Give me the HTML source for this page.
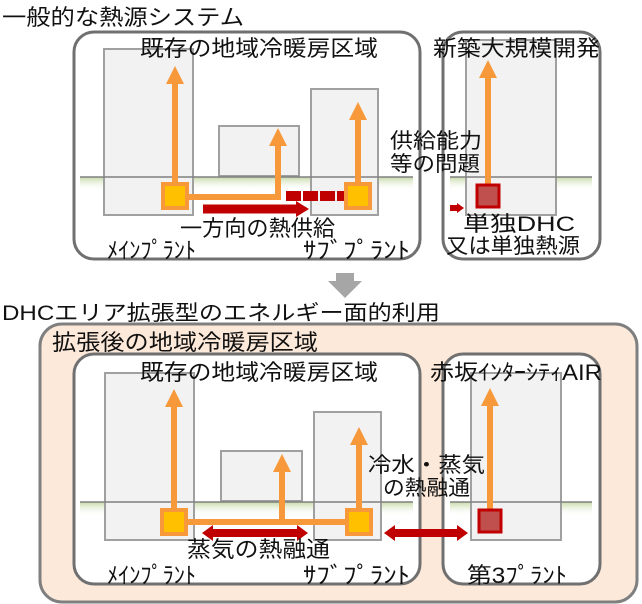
<!DOCTYPE html>
<html><head><meta charset="utf-8"><style>
html,body{margin:0;padding:0;background:#fff;width:642px;height:604px;overflow:hidden}
svg{display:block}
text{font-family:"Liberation Sans","Noto Sans CJK JP",sans-serif;fill:#111}
</style></head><body>
<svg width="642" height="604" viewBox="0 0 642 604" xmlns="http://www.w3.org/2000/svg">
<defs>
<linearGradient id="g" x1="0" y1="0" x2="0" y2="1"><stop offset="0" stop-color="#c6d9a8"/><stop offset="1" stop-color="#fff" stop-opacity="0"/></linearGradient>
</defs>

<!-- TOP -->
<text x="2" y="25" font-size="22" textLength="242" lengthAdjust="spacingAndGlyphs">一般的な熱源システム</text>
<rect x="74" y="32" width="346" height="227" rx="20" fill="#fff" stroke="#707070" stroke-width="3"/>
<rect x="443" y="32" width="157" height="227" rx="20" fill="#fff" stroke="#707070" stroke-width="3"/>
<rect x="80" y="177" width="333" height="14" fill="url(#g)"/>
<rect x="450" y="177" width="142" height="14" fill="url(#g)"/>
<rect x="104" y="49" width="89" height="166" fill="#f2f2f2" stroke="#a0a0a0" stroke-width="2"/>
<rect x="219" y="126" width="80" height="50" fill="#f2f2f2" stroke="#a0a0a0" stroke-width="2"/>
<rect x="311" y="89" width="67" height="126" fill="#f2f2f2" stroke="#a0a0a0" stroke-width="2"/>
<rect x="466" y="40" width="90" height="175" fill="#f2f2f2" stroke="#a0a0a0" stroke-width="2"/>
<line x1="80" y1="177" x2="413" y2="177" stroke="#808080" stroke-width="1.5"/>
<line x1="450" y1="177" x2="592" y2="177" stroke="#808080" stroke-width="1.5"/>
<text x="140" y="56" font-size="22" textLength="238" lengthAdjust="spacingAndGlyphs">既存の地域冷暖房区域</text>
<text x="433" y="56" font-size="22" textLength="167" lengthAdjust="spacingAndGlyphs">新築大規模開発</text>
<line x1="175" y1="185" x2="175" y2="84" stroke="#f7993a" stroke-width="6"/><path d="M166,84 L175,66 L184,84z" fill="#f7993a"/>
<line x1="278" y1="198" x2="278" y2="146" stroke="#f7993a" stroke-width="6"/><path d="M269,146 L278,128 L287,146z" fill="#f7993a"/>
<line x1="358" y1="185" x2="358" y2="120" stroke="#f7993a" stroke-width="6"/><path d="M349,120 L358,102 L367,120z" fill="#f7993a"/>
<line x1="188" y1="197" x2="281" y2="197" stroke="#f7993a" stroke-width="6"/>
<line x1="488" y1="186" x2="488" y2="78" stroke="#f7993a" stroke-width="6"/><path d="M479,78 L488,60 L497,78z" fill="#f7993a"/>
<rect x="163" y="184" width="24" height="24" fill="#ffc000" stroke="#f7993a" stroke-width="4"/>
<line x1="286" y1="196" x2="353" y2="196" stroke="#c00000" stroke-width="10" stroke-dasharray="15,2"/>
<rect x="346" y="184" width="24" height="24" fill="#ffc000" stroke="#f7993a" stroke-width="4"/>
<rect x="477" y="185" width="22" height="22" fill="#c0504d" stroke="#c00000" stroke-width="3"/>
<line x1="203" y1="209" x2="297" y2="209" stroke="#c00000" stroke-width="9"/><path d="M296,201 L309,209 L296,217z" fill="#c00000"/>
<line x1="450" y1="208" x2="458" y2="208" stroke="#c00000" stroke-width="6"/><path d="M457,203 L464,208 L457,213z" fill="#c00000"/>
<text x="180" y="236" font-size="22" textLength="155" lengthAdjust="spacingAndGlyphs">一方向の熱供給</text>
<text x="107" y="258" font-size="23" textLength="89" lengthAdjust="spacingAndGlyphs">ﾒｲﾝﾌﾟﾗﾝﾄ</text>
<text x="303" y="258" font-size="23" textLength="107" lengthAdjust="spacingAndGlyphs">ｻﾌﾞﾌﾟﾗﾝﾄ</text>
<text x="390" y="148" font-size="21" textLength="92" lengthAdjust="spacingAndGlyphs">供給能力</text>
<text x="390" y="171" font-size="21" textLength="90" lengthAdjust="spacingAndGlyphs">等の問題</text>
<text x="463" y="231" font-size="21" textLength="112" lengthAdjust="spacingAndGlyphs">単独DHC</text>
<text x="446" y="253" font-size="21" textLength="134" lengthAdjust="spacingAndGlyphs">又は単独熱源</text>

<!-- gray arrow -->
<rect x="336" y="273" width="18" height="9" fill="#a6a6a6"/>
<path d="M328,281 L362,281 L345,298z" fill="#a6a6a6"/>

<!-- BOTTOM -->
<text x="2" y="320" font-size="21" textLength="438" lengthAdjust="spacingAndGlyphs">DHCエリア拡張型のエネルギー面的利用</text>
<rect x="40" y="324" width="597" height="278" rx="22" fill="#fde9d9" stroke="#7f7f7f" stroke-width="3"/>
<text x="52" y="350" font-size="22" textLength="266" lengthAdjust="spacingAndGlyphs">拡張後の地域冷暖房区域</text>
<rect x="74" y="354" width="346" height="230" rx="20" fill="#fff" stroke="#707070" stroke-width="3"/>
<rect x="443" y="354" width="157" height="230" rx="20" fill="#fff" stroke="#707070" stroke-width="3"/>
<rect x="80" y="502" width="333" height="14" fill="url(#g)"/>
<rect x="450" y="502" width="142" height="14" fill="url(#g)"/>
<rect x="105" y="373" width="89" height="167" fill="#f2f2f2" stroke="#a0a0a0" stroke-width="2"/>
<rect x="221" y="451" width="81" height="50" fill="#f2f2f2" stroke="#a0a0a0" stroke-width="2"/>
<rect x="314" y="412" width="67" height="128" fill="#f2f2f2" stroke="#a0a0a0" stroke-width="2"/>
<rect x="471" y="373" width="90" height="167" fill="#f2f2f2" stroke="#a0a0a0" stroke-width="2"/>
<line x1="80" y1="502" x2="413" y2="502" stroke="#808080" stroke-width="1.5"/>
<line x1="450" y1="502" x2="592" y2="502" stroke="#808080" stroke-width="1.5"/>
<text x="140" y="380" font-size="22" textLength="238" lengthAdjust="spacingAndGlyphs">既存の地域冷暖房区域</text>
<text x="430" y="380" font-size="22" textLength="172" lengthAdjust="spacingAndGlyphs">赤坂ｲﾝﾀｰｼﾃｨAIR</text>
<line x1="174" y1="512" x2="174" y2="407" stroke="#f7993a" stroke-width="6"/><path d="M165,407 L174,389 L183,407z" fill="#f7993a"/>
<line x1="282" y1="523" x2="282" y2="472" stroke="#f7993a" stroke-width="6"/><path d="M273,472 L282,454 L291,472z" fill="#f7993a"/>
<line x1="359" y1="512" x2="359" y2="445" stroke="#f7993a" stroke-width="6"/><path d="M350,445 L359,427 L368,445z" fill="#f7993a"/>
<line x1="490" y1="512" x2="490" y2="406" stroke="#f7993a" stroke-width="6"/><path d="M481,406 L490,388 L499,406z" fill="#f7993a"/>
<line x1="185" y1="522" x2="350" y2="522" stroke="#f7993a" stroke-width="6"/>
<rect x="162" y="510" width="24" height="24" fill="#ffc000" stroke="#f7993a" stroke-width="4"/>
<rect x="347" y="510" width="24" height="24" fill="#ffc000" stroke="#f7993a" stroke-width="4"/>
<rect x="479" y="510" width="22" height="22" fill="#c0504d" stroke="#c00000" stroke-width="3"/>
<line x1="212" y1="533" x2="298" y2="533" stroke="#c00000" stroke-width="8"/>
<path d="M213,525 L202,533 L213,541z M297,525 L308,533 L297,541z" fill="#c00000"/>
<line x1="394" y1="533" x2="458" y2="533" stroke="#c00000" stroke-width="8"/>
<path d="M395,525 L384,533 L395,541z M457,525 L468,533 L457,541z" fill="#c00000"/>
<text x="368" y="472" font-size="21" textLength="117" lengthAdjust="spacingAndGlyphs">冷水・蒸気</text>
<text x="383" y="495" font-size="21" textLength="87" lengthAdjust="spacingAndGlyphs">の熱融通</text>
<text x="187" y="557" font-size="22" textLength="143" lengthAdjust="spacingAndGlyphs">蒸気の熱融通</text>
<text x="107" y="583" font-size="23" textLength="89" lengthAdjust="spacingAndGlyphs">ﾒｲﾝﾌﾟﾗﾝﾄ</text>
<text x="303" y="583" font-size="23" textLength="107" lengthAdjust="spacingAndGlyphs">ｻﾌﾞﾌﾟﾗﾝﾄ</text>
<text x="467" y="583" font-size="22" textLength="100" lengthAdjust="spacingAndGlyphs">第3ﾌﾟﾗﾝﾄ</text>
</svg>
</body></html>
